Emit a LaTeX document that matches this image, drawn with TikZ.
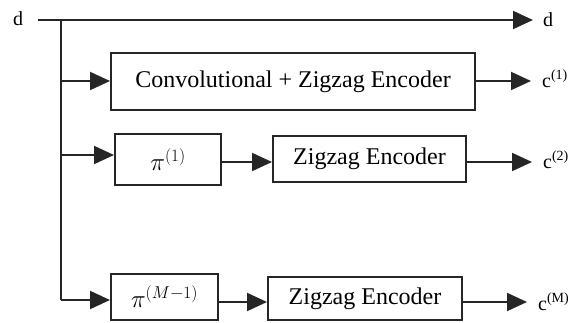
\documentclass[tikz,border=0pt]{standalone}
\usepackage{fontspec}
\setmainfont{Liberation Serif}
\usetikzlibrary{arrows.meta}
\tikzset{
  wire/.style={line width=2pt, draw=black!85},
  arr/.style={wire, -{Triangle[length=20pt,width=18pt]}},
  blockbox/.style={draw=black!85, line width=2pt, inner sep=0pt, font=\fontsize{24}{24}\selectfont},
  lbl/.style={inner sep=0pt, anchor=west, font=\fontsize{20}{20}\selectfont},
  pibox/.style={blockbox, font=\fontsize{24}{24}\selectfont}
}
\begin{document}
\begin{tikzpicture}[x=1pt,y=-1pt]
\useasboundingbox (0,0) rectangle (575,323);
% input / output labels
\node[lbl] (din) at (13,19) {d};
\node[lbl] (dout) at (543,20) {d};
\node[lbl] (c1) at (542,79) {c\textsuperscript{(1)}};
\node[lbl] (c2) at (543,160) {c\textsuperscript{(2)}};
\node[lbl] (cM) at (538,302) {c\textsuperscript{(M)}};
% blocks
\node[blockbox, minimum width=364pt, minimum height=57pt] (enc1) at (293,81.5) {Convolutional + Zigzag Encoder};
\node[pibox, minimum width=106pt, minimum height=51pt] (pi1) at (168,159.5) {$\pi^{(1)}$};
\node[blockbox, minimum width=193pt, minimum height=46pt] (enc2) at (369.5,159) {Zigzag Encoder};
\node[pibox, minimum width=107pt, minimum height=46pt] (piM) at (164.5,297) {$\pi^{(M-1)}$};
\node[blockbox, minimum width=194pt, minimum height=43pt] (enc3) at (365,298.5) {Zigzag Encoder};
% junctions on the bus
\coordinate (top) at (61,20);
\coordinate (j1) at (61,81);
\coordinate (j2) at (61,155);
\coordinate (j3) at (61,300);
\coordinate (lstart) at (38,20);
% main line
\draw[arr, shorten >=10pt] (lstart) -- (lstart -| dout.west);
\draw[wire] (top) -- (j3);
% branches
\draw[arr] (j1) -- (j1 -| enc1.west);
\draw[arr] (j2) -- (j2 -| pi1.west);
\draw[arr] (j3) -- (j3 -| piM.west);
% between blocks
\draw[arr] (pi1.east |- 0,162) -- (enc2.west |- 0,162);
\draw[arr] (piM.east |- 0,302) -- (enc3.west |- 0,302);
% outputs
\draw[arr, shorten >=11pt] (enc1.east |- 0,81) -- (enc1.east |- 0,81 -| c1.west);
\draw[arr, shorten >=11pt] (enc2.east |- 0,162) -- (enc2.east |- 0,162 -| c2.west);
\draw[arr, shorten >=11pt] (enc3.east |- 0,302) -- (enc3.east |- 0,302 -| cM.west);
\end{tikzpicture}
\end{document}
